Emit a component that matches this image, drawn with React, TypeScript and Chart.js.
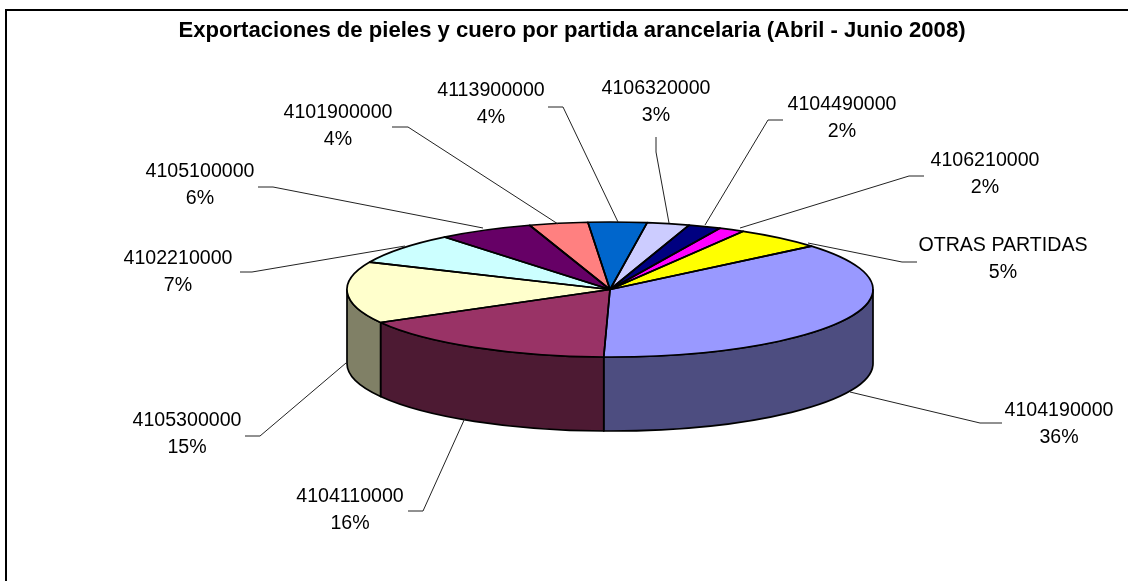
import React, { useEffect, useRef } from "react";
import { Chart, registerables } from "chart.js";

Chart.register(...registerables);

const categories = ["4104190000", "4104110000", "4105300000", "4102210000", "4105100000", "4101900000", "4113900000", "4106320000", "4104490000", "4106210000", "OTRAS PARTIDAS"];
const shares = [36.49, 16.49, 14.8, 7.49, 5.9, 3.6, 3.6, 2.6, 2, 1.6, 5.43];
const colors = ["#9999FF", "#993366", "#FFFFCC", "#CCFFFF", "#660066", "#FF8080", "#0066CC", "#CCCCFF", "#000080", "#FF00FF", "#FFFF00"];
const sideColors = ["#4D4D80", "#4D1A33", "#808066", "#668080", "#330033", "#804040", "#003366", "#666680", "#000040", "#800080", "#808000"];
const title = "Exportaciones de pieles y cuero por partida arancelaria (Abril - Junio 2008)";

// layout only: centre of each label and its leader line
const labelAt: [number, number][] = [[1059, 411], [350, 497], [187, 421], [178, 259], [200, 172], [338, 113], [491, 91], [656, 89], [842, 105], [985, 161], [1003, 246]];
const leaders: [number, number][][] = [
  [[1002, 423], [980, 423], [850, 392]],
  [[408, 511], [423, 511], [465, 418]],
  [[245, 436], [260, 436], [346, 363]],
  [[240, 272], [252, 272], [405, 246]],
  [[258, 187], [273, 187], [483, 228]],
  [[392, 127], [408, 127], [558, 224]],
  [[548, 107], [563, 107], [618, 222]],
  [[656, 137], [656, 152], [669, 223]],
  [[783, 120], [768, 120], [705, 225]],
  [[924, 176], [909, 176], [740, 228]],
  [[917, 262], [902, 262], [808, 243]],
];

const CX = 610, CY = 289.5, RX = 263, RY = 67.5, DEPTH = 74;
const FONT = '19.6px "Liberation Sans", Arial, sans-serif';
const TAU = Math.PI * 2;

const pie3d = {
  id: "pie3d",
  beforeDraw(chart: any) {
    const { ctx, width, height } = chart;
    ctx.save();
    ctx.fillStyle = "#fff";
    ctx.fillRect(0, 0, width, height);
    ctx.strokeStyle = "#000";
    ctx.lineWidth = 2;
    ctx.beginPath();
    ctx.moveTo(6, height);
    ctx.lineTo(6, 10);
    ctx.lineTo(width, 10);
    ctx.stroke();
    ctx.restore();
  },
  beforeDatasetsDraw(chart: any) {
    const { ctx } = chart;
    const arcs = chart.getDatasetMeta(0).data;
    // depth wall: the front half of each slice's rim, pushed down
    ctx.save();
    ctx.lineWidth = 1.7;
    ctx.strokeStyle = "#000";
    ctx.lineJoin = "round";
    arcs.forEach((arc: any, i: number) => {
      for (const k of [0, 1]) {
        const a0 = Math.max(arc.startAngle, k * TAU);
        const a1 = Math.min(arc.endAngle, k * TAU + Math.PI);
        if (a1 <= a0) continue;
        ctx.beginPath();
        ctx.ellipse(CX, CY, RX, RY, 0, a0, a1);
        ctx.ellipse(CX, CY + DEPTH, RX, RY, 0, a1, a0, true);
        ctx.closePath();
        ctx.fillStyle = sideColors[i];
        ctx.fill();
        ctx.stroke();
      }
    });
    ctx.restore();
    // squash the library's round pie into the tilted ellipse
    const a = arcs[0];
    ctx.save();
    ctx.translate(CX, CY);
    ctx.scale(RX / a.outerRadius, RY / a.outerRadius);
    ctx.translate(-a.x, -a.y);
  },
  afterDatasetsDraw(chart: any) {
    const { ctx } = chart;
    ctx.restore();
    const arcs = chart.getDatasetMeta(0).data;
    ctx.save();
    ctx.lineWidth = 1.7;
    ctx.strokeStyle = "#000";
    ctx.lineJoin = "round";
    arcs.forEach((arc: any) => {
      ctx.beginPath();
      ctx.moveTo(CX, CY);
      ctx.ellipse(CX, CY, RX, RY, 0, arc.startAngle, arc.endAngle);
      ctx.closePath();
      ctx.stroke();
    });
    ctx.restore();
    // leader lines and labels
    ctx.save();
    ctx.strokeStyle = "#222";
    ctx.lineWidth = 1;
    leaders.forEach((pts) => {
      ctx.beginPath();
      pts.forEach(([x, y], j) => (j ? ctx.lineTo(x, y) : ctx.moveTo(x, y)));
      ctx.stroke();
    });
    ctx.fillStyle = "#000";
    ctx.font = FONT;
    ctx.textAlign = "center";
    ctx.textBaseline = "middle";
    const total = shares.reduce((s, v) => s + v, 0);
    categories.forEach((c, i) => {
      const [x, y] = labelAt[i];
      ctx.fillText(c, x, y);
      ctx.fillText(`${Math.round((shares[i] / total) * 100)}%`, x, y + 27);
    });
    ctx.restore();
  },
};

export default function App() {
  const ref = useRef<HTMLCanvasElement>(null);
  useEffect(() => {
    document.body.style.margin = "0";
    const chart = new Chart(ref.current!, {
      type: "pie",
      data: {
        labels: categories,
        datasets: [{ data: shares, backgroundColor: colors, borderWidth: 0 }],
      },
      options: {
        animation: false,
        responsive: false,
        rotation: 50,
        layout: { padding: { left: 16 } },
        plugins: {
          legend: { display: false },
          tooltip: { enabled: false },
          title: {
            display: true,
            text: title,
            color: "#000",
            font: { family: '"Liberation Sans", Arial, sans-serif', size: 22.1, weight: "bold" },
            padding: { top: 18, bottom: 10 },
          },
        },
      },
      plugins: [pie3d],
    } as any);
    return () => chart.destroy();
  }, []);
  return <canvas ref={ref} width={1128} height={581} style={{ display: "block" }} />;
}
